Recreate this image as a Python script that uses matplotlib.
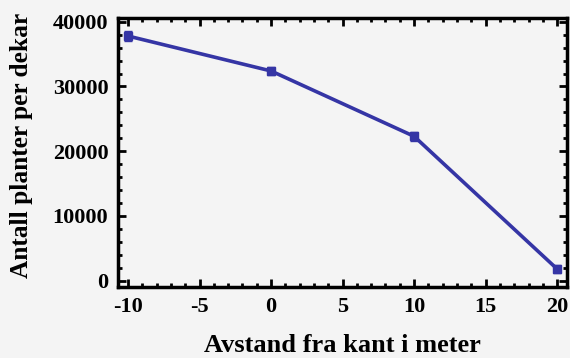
import matplotlib
matplotlib.use("Agg")
import matplotlib.pyplot as plt
from matplotlib.ticker import MultipleLocator

distance = [-10, 0, 10, 20]
plants = [37800, 32400, 22300, 1800]
errors = [700, 600, 700, 600]
xticks = [-10, -5, 0, 5, 10, 15, 20]
yticks = [0, 10000, 20000, 30000, 40000]

plt.rcParams['font.family'] = ['Liberation Serif', 'DejaVu Serif']
plt.rcParams['axes.unicode_minus'] = False

fig = plt.figure(figsize=(5.7, 3.58), dpi=100)
fig.patch.set_facecolor('#f4f4f4')
ax = fig.add_axes([0.207, 0.198, 0.788, 0.752])
ax.set_facecolor('#f4f4f4')

color = '#3535a5'
ax.errorbar(distance, plants, yerr=errors, color=color, lw=2.6,
            marker='s', ms=6, mfc=color, mec=color, capsize=3, elinewidth=1.5)

ax.set_xlim(-10.7, 20.7)
ax.set_ylim(-1000, 40600)
ax.set_xticks(xticks)
ax.set_yticks(yticks)
ax.xaxis.set_minor_locator(MultipleLocator(1))
ax.yaxis.set_minor_locator(MultipleLocator(2000))
ax.tick_params(which='both', direction='in', top=True, right=True, width=2)
ax.tick_params(which='major', length=6, labelsize=16, pad=7)
ax.tick_params(which='minor', length=3)
for lab in ax.get_xticklabels() + ax.get_yticklabels():
    lab.set_fontweight('bold')
for s in ax.spines.values():
    s.set_linewidth(2.5)

ax.set_xlabel('Avstand fra kant i meter', fontsize=19, fontweight='bold', labelpad=12)
ax.set_ylabel('Antall planter per dekar', fontsize=18.3, fontweight='bold')
ax.yaxis.set_label_coords(-0.19, 0.528)

fig.savefig('out.png', dpi=100, facecolor=fig.get_facecolor())
